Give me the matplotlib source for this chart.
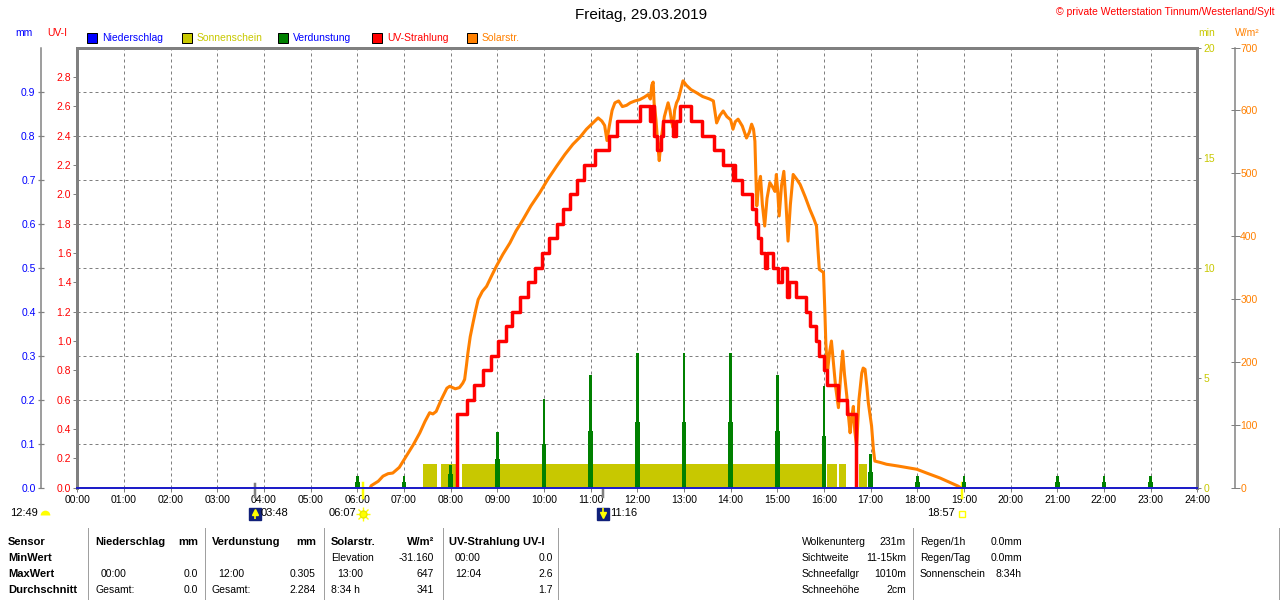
import numpy as np
import matplotlib
matplotlib.use("Agg")
import matplotlib.pyplot as plt
from matplotlib.patches import Rectangle
from matplotlib.lines import Line2D
from matplotlib.transforms import blended_transform_factory

plt.rcParams["font.family"] = ["Liberation Sans", "DejaVu Sans"]

# ============================================================
# Daten
# ============================================================
stunden = list(range(25))
stunden_labels = [f"{h:02d}:00" for h in stunden]

# Solarstrahlung in W/m²
solar_t = [6.28, 6.30, 6.45, 6.55, 6.66, 6.76, 6.90, 7.05, 7.20, 7.34, 7.45, 7.55, 7.62, 7.69,
           7.80, 7.92, 7.98, 8.10, 8.19, 8.26, 8.30, 8.34, 8.37, 8.42, 8.48, 8.54, 8.59, 8.68,
           8.77, 8.88, 8.98, 9.12, 9.27, 9.40, 9.55, 9.72, 9.91, 10.08, 10.27, 10.45, 10.62,
           10.78, 10.91, 11.05, 11.16, 11.24, 11.30, 11.35, 11.40, 11.46, 11.52, 11.60, 11.68,
           11.77, 11.85, 11.95, 12.05, 12.15, 12.23, 12.28, 12.31, 12.34, 12.36, 12.40, 12.44,
           12.47, 12.50, 12.52, 12.58, 12.66, 12.70, 12.74, 12.77, 12.80, 12.84, 12.88, 12.94,
           12.98, 13.05, 13.15, 13.27, 13.40, 13.55, 13.63, 13.67, 13.70, 13.77, 13.84, 13.92,
           14.00, 14.05, 14.10, 14.16, 14.25, 14.34, 14.40, 14.45, 14.49, 14.52, 14.54, 14.56,
           14.60, 14.64, 14.68, 14.73, 14.78, 14.84, 14.90, 14.95, 14.98, 15.01, 15.04, 15.09,
           15.14, 15.18, 15.23, 15.28, 15.34, 15.42, 15.49, 15.60, 15.70, 15.78, 15.84, 15.87,
           15.90, 15.99, 16.02, 16.04, 16.06, 16.08, 16.12, 16.16, 16.20, 16.25, 16.31, 16.36,
           16.40, 16.44, 16.49, 16.53, 16.56, 16.60, 16.63, 16.66, 16.70, 16.75, 16.81, 16.84,
           16.88, 16.92, 16.95, 17.02, 17.06, 17.09, 17.20, 17.34, 17.60, 17.99, 18.20, 18.49,
           18.70, 18.88, 18.92]
solar_w = [0, 3, 10, 18, 22, 23, 32, 50, 68, 87, 105, 119, 117, 121,
           140, 158, 161, 157, 159, 166, 172, 195, 214, 240, 262, 283, 299, 312,
           320, 337, 352, 371, 389, 408, 426, 448, 469, 490, 511, 530, 546,
           558, 570, 580, 588, 583, 576, 552, 575, 600, 612, 615, 606,
           608, 612, 615, 617, 621, 625, 618, 640, 645, 612, 585, 545,
           520, 545, 559, 590, 612, 600, 580, 572, 600, 612, 618, 635,
           647, 640, 633, 628, 622, 618, 615, 595, 580, 592, 599, 590,
           585, 570, 582, 586, 575, 556, 565, 578, 570, 551, 500, 448,
           480, 495, 450, 416, 460, 485, 478, 471, 498, 470, 432, 480,
           503, 460, 392, 450, 498, 490, 482, 462, 442, 428, 416, 380,
           347, 342, 278, 230, 204, 188, 215, 233, 200, 160, 127, 180,
           217, 180, 145, 110, 87, 115, 129, 90, 66, 140, 182, 190,
           188, 160, 135, 98, 60, 42, 40, 37, 34, 29, 23, 15,
           8, 2, 0]

# UV-Index (Stufen)
uv_t = [8.14, 8.14, 8.34, 8.51, 8.69, 8.87, 9.02, 9.19, 9.32, 9.48, 9.66, 9.80, 9.96, 10.10,
        10.27, 10.40, 10.55, 10.70, 10.85, 11.10, 11.40, 11.57, 12.05, 12.27, 12.31, 12.36,
        12.42, 12.50, 12.55, 12.76, 12.82, 12.91, 13.16, 13.38, 13.64, 13.83, 14.06, 14.08,
        14.10, 14.24, 14.45, 14.54, 14.59, 14.66, 14.74, 14.77, 14.90, 15.02, 15.09, 15.20,
        15.24, 15.41, 15.61, 15.71, 15.82, 15.89, 16.00, 16.07, 16.29, 16.50, 16.69]
uv_i = [0.0, 0.5, 0.6, 0.7, 0.8, 0.9, 1.0, 1.1, 1.2, 1.3, 1.4, 1.5, 1.6, 1.7,
        1.8, 1.9, 2.0, 2.1, 2.2, 2.3, 2.4, 2.5, 2.6, 2.5, 2.6, 2.4,
        2.3, 2.4, 2.5, 2.4, 2.5, 2.6, 2.5, 2.4, 2.3, 2.2, 2.1, 2.2,
        2.1, 2.0, 1.9, 1.8, 1.7, 1.6, 1.5, 1.6, 1.5, 1.4, 1.5, 1.3,
        1.4, 1.3, 1.2, 1.1, 1.0, 0.9, 0.8, 0.7, 0.6, 0.5, 0.0]

# Verdunstung in mm (Spitze und breiter Sockel)
verd_t = [6, 7, 8, 9, 10, 11, 12, 13, 14, 15, 16, 17, 18, 19, 21, 22, 23]
verd_max = [0.026, 0.026, 0.052, 0.127, 0.202, 0.255, 0.305, 0.305, 0.305,
            0.255, 0.230, 0.077, 0.026, 0.026, 0.026, 0.026, 0.026]
verd_sockel = [0.012, 0.012, 0.030, 0.064, 0.100, 0.128, 0.150, 0.150, 0.150,
               0.128, 0.117, 0.035, 0.012, 0.012, 0.012, 0.012, 0.012]

# Sonnenschein in min
sonne_von = [7.41, 7.79, 8.25, 16.06, 16.33, 16.76]
sonne_bis = [7.70, 8.19, 16.01, 16.27, 16.47, 16.93]
sonne_min = [1.05, 1.05, 1.05, 1.05, 1.05, 1.05]

# Niederschlag in mm
regen_t = [0, 24]
regen_mm = [0.0, 0.0]

# Mond und Sonne
mondaufgang = 3 + 48 / 60
sonnenaufgang = 6 + 7 / 60
monduntergang = 11 + 16 / 60
sonnenuntergang = 18 + 57 / 60

mm_ticks = [0.0, 0.1, 0.2, 0.3, 0.4, 0.5, 0.6, 0.7, 0.8, 0.9]
uv_ticks = [0.0, 0.2, 0.4, 0.6, 0.8, 1.0, 1.2, 1.4, 1.6, 1.8, 2.0, 2.2, 2.4, 2.6, 2.8]
min_ticks = [0, 5, 10, 15, 20]
wm2_ticks = [0, 100, 200, 300, 400, 500, 600, 700]

tabelle_kopf = ["Sensor", "MinWert", "MaxWert", "Durchschnitt"]
tabelle_rechts1 = [("Wolkenunterg", "231m"), ("Sichtweite", "11-15km"),
                   ("Schneefallgr", "1010m"), ("Schneehöhe", "2cm")]
tabelle_rechts2 = [("Regen/1h", "0.0mm"), ("Regen/Tag", "0.0mm"), ("Sonnenschein", "8:34h")]

# ============================================================
# Farben / Hilfsfunktionen
# ============================================================
GRAU = "#808080"
BLAU = "#0000ff"
BLAU_D = "#1e1ec8"
ROT = "#ff0000"
ORANGE = "#ff8000"
GRUEN = "#008000"
GELB = "#c8c800"
SONNE = "#ffff00"
NAVY = "#10207a"

FW, FH = 1280, 600
PT = 0.72  # px -> pt bei dpi 100


def fx(x):
    return x / FW


def fy(y):
    return 1 - y / FH


fig = plt.figure(figsize=(12.8, 6), dpi=100)
L, R, T, B = 77.3, 1197.3, 47.5, 487.5
ax = fig.add_axes([fx(L), fy(B), (R - L) / FW, (B - T) / FH])

# Hauptachse: mm + Gitter
ax.set_xlim(0, 24)
ax.set_ylim(0, 1.0)
ax.set_xticks(stunden)
ax.set_xticklabels(stunden_labels)
ax.set_yticks(mm_ticks)
ax.set_yticklabels([f"{v:.1f}" for v in mm_ticks])
ax.grid(True, color=GRAU, linestyle=(0, (3, 3)), linewidth=1 * PT)
ax.tick_params(axis="x", length=4 * PT, width=1 * PT, color=GRAU, labelsize=7.5, pad=2.5)
ax.tick_params(axis="y", direction="inout", length=6 * PT, width=1.2 * PT, color=GRAU,
               labelcolor=BLAU, labelsize=7.5, pad=1.5)
ax.spines["left"].set_position(("outward", 36.6 * PT))
ax.spines["left"].set_color(GRAU)
ax.spines["left"].set_linewidth(1.5 * PT)
ax.spines["top"].set_color(GRAU)
ax.spines["top"].set_linewidth(3 * PT)
ax.spines["bottom"].set_visible(False)
ax.spines["right"].set_visible(False)


def twin():
    a = ax.twinx()
    for s in a.spines.values():
        s.set_visible(False)
    return a


# Sonnenschein
ax_sun = twin()
ax_sun.set_ylim(0, 20)
ax_sun.set_yticks(min_ticks)
ax_sun.spines["right"].set_visible(True)
ax_sun.spines["right"].set_color(GRAU)
ax_sun.spines["right"].set_linewidth(3 * PT)
ax_sun.tick_params(axis="y", length=4 * PT, width=1 * PT, color=GRAU, labelcolor=GELB,
                   labelsize=7.5, pad=1.5)
ax_sun.bar(sonne_von, sonne_min, width=np.array(sonne_bis) - np.array(sonne_von),
           align="edge", color=GELB, linewidth=0)

# Verdunstung
ax_gr = twin()
ax_gr.set_ylim(0, 1.0)
ax_gr.set_yticks([])
ax_gr.bar(verd_t, verd_sockel, width=0.1, color=GRUEN, linewidth=0)
ax_gr.bar(verd_t, verd_max, width=0.055, color=GRUEN, linewidth=0)

# Solarstrahlung
ax_w = twin()
ax_w.set_ylim(0, 700)
ax_w.set_yticks(wm2_ticks)
ax_w.spines["right"].set_visible(True)
ax_w.spines["right"].set_position(("outward", 37.7 * PT))
ax_w.spines["right"].set_color(GRAU)
ax_w.spines["right"].set_linewidth(1.5 * PT)
ax_w.tick_params(axis="y", direction="inout", length=9 * PT, width=1 * PT, color=GRAU,
                 labelcolor=ORANGE, labelsize=7.5, pad=0.5)
ax_w.plot(solar_t, solar_w, color=ORANGE, linewidth=2.2)

# UV-Strahlung
ax_uv = twin()
ax_uv.set_ylim(0, 3.0)
ax_uv.yaxis.set_ticks_position("left")
ax_uv.set_yticks(uv_ticks)
ax_uv.set_yticklabels([f"{v:.1f}" for v in uv_ticks])
ax_uv.spines["left"].set_visible(True)
ax_uv.spines["left"].set_color(GRAU)
ax_uv.spines["left"].set_linewidth(3 * PT)
ax_uv.tick_params(axis="y", length=4 * PT, width=1 * PT, color=GRAU, labelcolor=ROT,
                  labelsize=7.5, pad=1.5)
ax_uv.step(uv_t, uv_i, where="post", color=ROT, linewidth=2.5)

# Niederschlag (Nulllinie)
ax_nd = twin()
ax_nd.set_ylim(0, 1.0)
ax_nd.set_yticks([])
ax_nd.plot(regen_t, regen_mm, color=BLAU_D, linewidth=2 * PT, clip_on=False)

# ============================================================
# Texte oben
# ============================================================
fig.text(fx(641), fy(15), "Freitag, 29.03.2019", ha="center", va="center", fontsize=11)
fig.text(fx(1275), fy(12), "© private Wetterstation Tinnum/Westerland/Sylt", ha="right",
         va="center", fontsize=7.5, color=ROT)
fig.text(fx(15), fy(33), "mm", ha="left", va="center", fontsize=7.5, color=BLAU)
fig.text(fx(47), fy(33), "UV-I", ha="left", va="center", fontsize=7.5, color=ROT)
fig.text(fx(1198), fy(33), "min", ha="left", va="center", fontsize=7.5, color=GELB)
fig.text(fx(1235), fy(33), "W/m²", ha="left", va="center", fontsize=7.5, color=ORANGE)

legende = [("Niederschlag", BLAU, BLAU, 87), ("Sonnenschein", GELB, GELB, 182),
           ("Verdunstung", GRUEN, BLAU, 278), ("UV-Strahlung", ROT, ROT, 372),
           ("Solarstr.", ORANGE, ORANGE, 467)]
for name, fc, tc, x in legende:
    fig.patches.append(Rectangle((fx(x), fy(43)), 10 / FW, 10 / FH, transform=fig.transFigure,
                                 facecolor=fc, edgecolor="black", linewidth=1 * PT))
    fig.text(fx(x + 15), fy(38), name, ha="left", va="center", fontsize=7.5, color=tc)

# ============================================================
# Mond / Sonne unter der Zeitachse
# ============================================================
trans = blended_transform_factory(ax.transData, fig.transFigure)
for t, c in [(mondaufgang, GRAU), (monduntergang, GRAU)]:
    ax.plot([t, t], [fy(484), fy(497)], transform=trans, color=c, linewidth=2.5 * PT,
            clip_on=False)
for t in [sonnenaufgang, sonnenuntergang]:
    ax.plot([t, t], [fy(483), fy(498)], transform=trans, color=SONNE, linewidth=2.5 * PT,
            clip_on=False)

yi = fy(513.5)
# Tageslänge
fig.text(fx(10), yi, "12:49", ha="left", va="center", fontsize=8)
ax.plot([fx(45)], [fy(515)], transform=fig.transFigure, marker="o", fillstyle="top",
        markerfacecoloralt="none", markersize=7, color=SONNE, markeredgecolor="none",
        clip_on=False)
# Mondaufgang
ax.plot([mondaufgang], [yi], transform=trans, marker="s", markersize=8, color=NAVY,
        clip_on=False)
ax.plot([mondaufgang], [fy(512)], transform=trans, marker="^", markersize=4, color=SONNE,
        clip_on=False)
ax.plot([mondaufgang], [fy(516)], transform=trans, marker="|", markersize=4, color=SONNE,
        markeredgewidth=1.2, clip_on=False)
fig.text(fx(261), yi, "03:48", ha="left", va="center", fontsize=8)
# Sonnenaufgang
ax.plot([sonnenaufgang], [yi], transform=trans, marker="+", markersize=10, color=SONNE,
        markeredgewidth=1, clip_on=False)
ax.plot([sonnenaufgang], [yi], transform=trans, marker="x", markersize=7, color=SONNE,
        markeredgewidth=1, clip_on=False)
ax.plot([sonnenaufgang], [yi], transform=trans, marker="o", markersize=5, color=SONNE,
        markeredgecolor="#e8e800", clip_on=False)
fig.text(fx(356), yi, "06:07", ha="right", va="center", fontsize=8)
# Monduntergang
ax.plot([monduntergang], [yi], transform=trans, marker="s", markersize=8, color=NAVY,
        clip_on=False)
ax.plot([monduntergang], [fy(515)], transform=trans, marker="v", markersize=4, color=SONNE,
        clip_on=False)
ax.plot([monduntergang], [fy(511)], transform=trans, marker="|", markersize=4, color=SONNE,
        markeredgewidth=1.2, clip_on=False)
fig.text(fx(610), yi, "11:16", ha="left", va="center", fontsize=8)
# Sonnenuntergang
ax.plot([sonnenuntergang], [yi], transform=trans, marker="s", markersize=4.5,
        markerfacecolor="none", markeredgecolor=SONNE, markeredgewidth=1, clip_on=False)
fig.text(fx(955), yi, "18:57", ha="right", va="center", fontsize=8)

# ============================================================
# Tabelle unten
# ============================================================
zeilen_y = [542, 558, 574, 590]
for lbl, y in zip(tabelle_kopf, zeilen_y):
    fig.text(fx(8), fy(y), lbl, ha="left", va="center", fontsize=8, fontweight="bold")

for x in [88.3, 205, 324, 443, 558, 913, 1279]:
    fig.add_artist(Line2D([fx(x), fx(x)], [fy(528), fy(600)], color="#a0a0a0",
                          linewidth=1 * PT))


def links(x, y, s, **kw):
    kw.setdefault("fontsize", 7.5)
    fig.text(fx(x), fy(y), s, ha="left", va="center", **kw)


def rechts(x, y, s, **kw):
    kw.setdefault("fontsize", 7.5)
    fig.text(fx(x), fy(y), s, ha="right", va="center", **kw)


fett = dict(fontweight="bold", fontsize=8)
links(95, 542, "Niederschlag", **fett)
rechts(198, 542, "mm", **fett)
links(212, 542, "Verdunstung", **fett)
rechts(316, 542, "mm", **fett)
links(331, 542, "Solarstr.", **fett)
rechts(434, 542, "W/m²", **fett)
links(449, 542, "UV-Strahlung UV-I", **fett)

links(331, 558, "Elevation")
rechts(434, 558, "-31.160")
links(455, 558, "00:00")
rechts(553, 558, "0.0")

links(101, 574, "00:00")
rechts(198, 574, "0.0")
links(218, 574, "12:00")
rechts(316, 574, "0.305")
links(337, 574, "13:00")
rechts(434, 574, "647")
links(455, 574, "12:04")
rechts(553, 574, "2.6")

links(95, 590, "Gesamt:")
rechts(198, 590, "0.0")
links(212, 590, "Gesamt:")
rechts(316, 590, "2.284")
links(331, 590, "8:34 h")
rechts(434, 590, "341")
rechts(553, 590, "1.7")

for (a, b), y in zip(tabelle_rechts1, zeilen_y):
    links(802, y, a)
    rechts(906, y, b)
for (a, b), y in zip(tabelle_rechts2, zeilen_y):
    links(920, y, a)
    rechts(1022, y, b)

fig.savefig("out.png", dpi=100)
